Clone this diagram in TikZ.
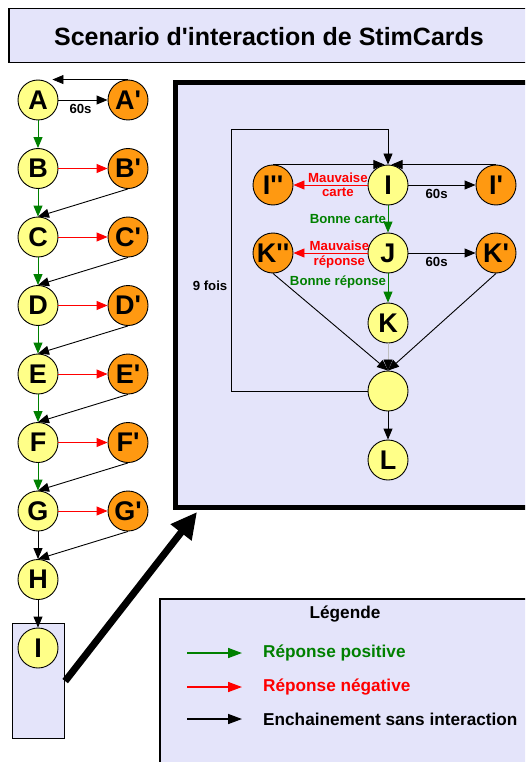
\documentclass[tikz,border=0pt]{standalone}
\usepackage{fontspec}
\setmainfont{Liberation Sans}[Ligatures=TeXOff]
\usetikzlibrary{arrows.meta,calc}
\definecolor{lav}{RGB}{228,228,250}
\definecolor{yel}{RGB}{255,255,136}
\definecolor{ora}{RGB}{255,153,17}
\definecolor{grn}{RGB}{0,128,0}
\begin{document}
\begin{tikzpicture}[x=1pt,y=-1pt,
  st/.style={circle, draw, line width=0.9pt, minimum size=40pt, inner sep=0pt, font=\fontsize{27}{27}\selectfont\bfseries},
  yn/.style={st, fill=yel},
  on/.style={st, fill=ora},
  ar/.style={-{Triangle[length=11pt 0 0,width=9pt 0 0]}, line width=0.9pt},
  posar/.style={ar, color=grn},
  negar/.style={ar, color=red},
  blkar/.style={ar, color=black},
  lbl/.style={font=\fontsize{13.2}{13.5}\selectfont\bfseries, inner sep=1.5pt},
  lgd/.style={font=\fontsize{17.2}{18}\selectfont\bfseries, inner sep=0pt, anchor=west},
  lgar/.style={-{Triangle[length=14pt 0 0,width=10pt 0 0]}, line width=1.6pt},
  boxs/.style={draw, fill=lav, anchor=north west, inner sep=0pt}
]
\useasboundingbox (0,0) rectangle (525,762);
\clip (0,0) rectangle (525,762);
% title
\node[boxs, line width=1.5pt, minimum width=540pt, minimum height=54pt] (tbox) at (8,8) {};
\node[font=\fontsize{25}{26}\selectfont\bfseries] (title) at (269,37) {Scenario d'interaction de StimCards};
% boxes
\node[boxs, line width=1.2pt, minimum width=52pt, minimum height=115pt] (ibox) at (12,623) {};
\node[boxs, line width=5pt, minimum width=380pt, minimum height=425pt] (big) at (173,80) {};
\node[boxs, line width=1.5pt, minimum width=380pt, minimum height=200pt] (leg) at (159,598) {};
% left column
\node[yn] (A) at (38,100) {A};   \node[on] (A2) at (128,100) {A'};
\node[yn] (B) at (38,168.5) {B}; \node[on] (B2) at (128,168.5) {B'};
\node[yn] (C) at (38,237) {C};   \node[on] (C2) at (128,237) {C'};
\node[yn] (D) at (38,305.5) {D}; \node[on] (D2) at (128,305.5) {D'};
\node[yn] (E) at (38,374) {E};   \node[on] (E2) at (128,374) {E'};
\node[yn] (F) at (38,442.5) {F}; \node[on] (F2) at (128,442.5) {F'};
\node[yn] (G) at (38,511) {G};   \node[on] (G2) at (128,511) {G'};
\node[yn] (H) at (38,579.5) {H};
\node[yn] (I0) at (38,648) {I};
\draw[blkar] (A) -- (A2) node[lbl, pos=0.45, below=2pt] (s60a) {60s};
\draw[blkar] (A2.north) -- (A2.north -| A.45);
\draw[posar] (A) -- (B);
\draw[posar] (B) -- (C);
\draw[posar] (C) -- (D);
\draw[posar] (D) -- (E);
\draw[posar] (E) -- (F);
\draw[posar] (F) -- (G);
\draw[blkar] (G) -- (H);
\draw[blkar] (H) -- (I0);
\draw[negar] (B) -- (B2);
\draw[negar] (C) -- (C2);
\draw[negar] (D) -- (D2);
\draw[negar] (E) -- (E2);
\draw[negar] (F) -- (F2);
\draw[negar] (G) -- (G2);
\draw[blkar] (B2.south) -- (C.north);
\draw[blkar] (C2.south) -- (D.north);
\draw[blkar] (D2.south) -- (E.north);
\draw[blkar] (E2.south) -- (F.north);
\draw[blkar] (F2.south) -- (G.north);
\draw[blkar] (G2.south) -- (H.north);
% thick arrow
\draw[line width=7pt, -{Triangle[length=26pt 0 0,width=25pt 0 0]}] (ibox.east) -- ($(big.south west)+(24,2)$);
% inner diagram
\node[yn] (I) at (388,185) {I};
\node[on] (I2) at (273,185) {I''};
\node[on] (I1) at (496,185) {I'};
\node[yn] (J) at (388,253) {J};
\node[on] (K2) at (273,253) {K''};
\node[on] (K1) at (496,253) {K'};
\node[yn] (K) at (388,323) {K};
\node[yn] (E0) at (388,391) {};
\node[yn] (L) at (388,460) {L};
\coordinate (lp) at (231,129);
\draw[blkar] (E0.west) -| (lp) -| (I.north);
\node[lbl, anchor=east] (nf) at (229,286) {9 fois};
\draw[blkar] (I2.north) -- (I2.north -| I.100);
\draw[blkar] (I1.north) -- (I1.north -| I.80);
\draw[negar] (I) -- (I2) node[lbl, text=red, pos=0.4, above=0.5pt] (mc1) {Mauvaise} node[lbl, text=red, pos=0.4, below=0.5pt] (mc2) {carte};
\draw[blkar] (I) -- (I1) node[lbl, pos=0.42, below=2pt] (s60b) {60s};
\draw[posar] (I) -- (J) node[lbl, text=grn, midway, left=0pt] (bc) {Bonne carte};
\draw[negar] (J) -- (K2) node[lbl, text=red, pos=0.38, above=0.5pt] (mr1) {Mauvaise} node[lbl, text=red, pos=0.38, below=0.5pt] (mr2) {réponse};
\draw[blkar] (J) -- (K1) node[lbl, pos=0.42, below=2pt] (s60c) {60s};
\draw[posar] (J) -- (K) node[lbl, text=grn, pos=0.3, left=0pt] (br) {Bonne réponse};
\draw[blkar] (K2.south) -- (E0.north);
\draw[blkar] (K1.south) -- (E0.north);
\draw[line width=0.6pt, draw=black!25, -{Triangle[length=11pt 0 0,width=9pt 0 0,color=black]}] (K.south) -- (E0.north);
\draw[blkar] (E0) -- (L);
% legend
\node[font=\fontsize{17.2}{18}\selectfont\bfseries] (lt) at (345,614) {Légende};
\coordinate (g1) at (187,653); \coordinate (g2) at (242,653);
\coordinate (r1) at (187,687); \coordinate (r2) at (242,687);
\coordinate (k1) at (187,719); \coordinate (k2) at (242,719);
\draw[lgar, color=grn] (g1) -- (g2);
\draw[lgar, color=red] (r1) -- (r2);
\draw[lgar, color=black] (k1) -- (k2);
\node[lgd, text=grn] (lg1) at (263,653) {Réponse positive};
\node[lgd, text=red] (lg2) at (263,687) {Réponse négative};
\node[lgd] (lg3) at (263,719) {Enchainement sans interaction};
\end{tikzpicture}
\end{document}
